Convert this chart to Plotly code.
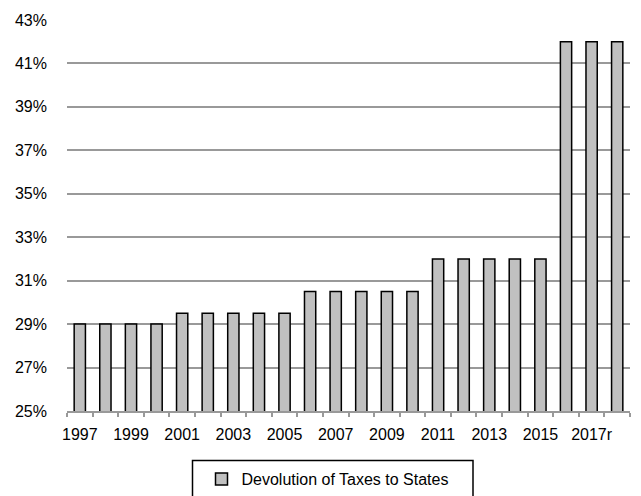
import plotly.graph_objects as go

# Fiscal years and the share of divisible tax pool devolved to states (%)
years = ["1997", "1998", "1999", "2000", "2001", "2002", "2003", "2004", "2005",
         "2006", "2007", "2008", "2009", "2010", "2011", "2012", "2013", "2014",
         "2015", "2016", "2017r", "2018"]
share = [29, 29, 29, 29, 29.5, 29.5, 29.5, 29.5, 29.5,
         30.5, 30.5, 30.5, 30.5, 30.5, 32, 32, 32, 32,
         32, 42, 42, 42]
series_name = "Devolution of Taxes to States"

# Show every other year on the axis
tick_text = [y if i % 2 == 0 else "" for i, y in enumerate(years)]
y_ticks = list(range(25, 44, 2))
y_tick_text = [f"{v}%" for v in y_ticks]

FONT = "Liberation Sans, Arial, sans-serif"
W, H = 641, 496
M_L, M_R, M_T, M_B = 67, 11, 20, 85
plot_w = W - M_L - M_R
plot_h = H - M_T - M_B


def px_to_paper_x(px):
    return (px - M_L) / plot_w


def px_to_paper_y(py):
    return (H - M_B - py) / plot_h


fig = go.Figure(
    go.Bar(
        x=years,
        y=share,
        name=series_name,
        marker=dict(color="#c0c0c0", line=dict(color="#000000", width=1.5)),
        showlegend=True,
    )
)

# Frame around the legend entry
fig.add_shape(
    type="rect",
    xref="paper", yref="paper",
    x0=px_to_paper_x(192.5), x1=px_to_paper_x(473),
    y0=px_to_paper_y(460.5), y1=px_to_paper_y(505),
    line=dict(color="#000000", width=1.5),
    fillcolor="rgba(0,0,0,0)",
    layer="above",
)

fig.update_layout(
    width=W,
    height=H,
    margin=dict(l=M_L, r=M_R, t=M_T, b=M_B, autoexpand=False),
    paper_bgcolor="white",
    plot_bgcolor="white",
    bargap=0.56,
    font=dict(family=FONT, size=16, color="#000000"),
    showlegend=True,
    legend=dict(
        orientation="h",
        x=px_to_paper_x(327.5),
        xanchor="center",
        y=px_to_paper_y(462),
        yanchor="top",
        borderwidth=0,
        bgcolor="rgba(0,0,0,0)",
        font=dict(family=FONT, size=16),
        itemwidth=30,
    ),
)

fig.update_xaxes(
    type="category",
    tickmode="array",
    tickvals=years,
    ticktext=tick_text,
    tickson="boundaries",
    ticks="outside",
    ticklen=4,
    tickcolor="#999999",
    tickwidth=1.5,
    showline=True,
    linecolor="#999999",
    linewidth=1.5,
    showgrid=False,
    tickangle=0,
    ticklabelstandoff=8,
)

fig.update_yaxes(
    range=[25, 43],
    tickmode="array",
    tickvals=y_ticks,
    ticktext=y_tick_text,
    showgrid=True,
    gridcolor="#999999",
    gridwidth=1.5,
    showline=False,
    zeroline=False,
    ticks="",
    ticklabelstandoff=19,
)

fig.write_html("out.html")
